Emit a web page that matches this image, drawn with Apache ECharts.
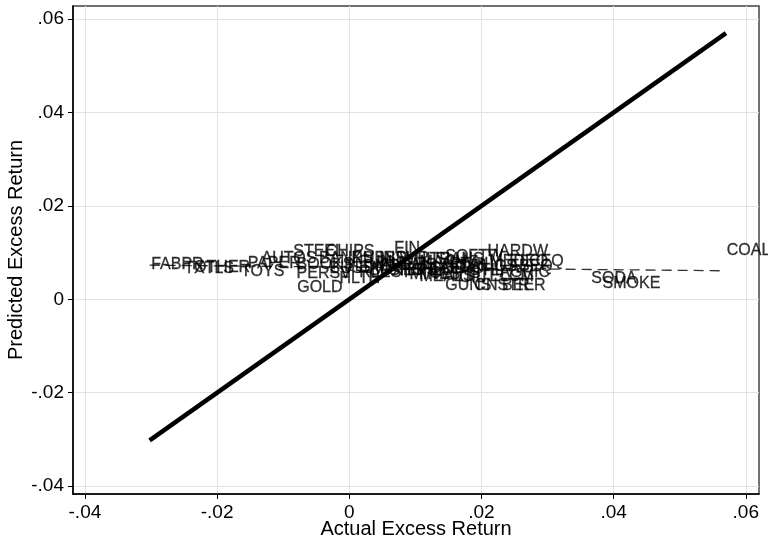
<!DOCTYPE html>
<html>
<head>
<meta charset="utf-8">
<script src="https://cdn.jsdelivr.net/npm/echarts@6/dist/echarts.min.js"></script>
<style>html,body{margin:0;padding:0;background:#fff;}#c{width:768px;height:540px;}</style>
</head>
<body>
<div id="c"></div>
<script>
// Industry labels and values (actual excess return, predicted excess return)
var industries = ['AGRIC','FOOD','SODA','BEER','SMOKE','TOYS','FUN','BOOKS','HSHLD','CLTHS','HLTH','MEDEQ','DRUGS','CHEMS','RUBBR','TXTLS','BLDMT','CNSTR','STEEL','FABPR','MACH','ELCEQ','AUTOS','AERO','SHIPS','GUNS','GOLD','MINES','COAL','OIL','UTIL','TELCM','PERSV','BUSSV','HARDW','SOFTW','CHIPS','LABEQ','PAPER','BOXES','TRANS','WHLSL','RTAIL','MEALS','BANKS','INSUR','RLEST','FIN','OTHER'];
var actual = [0.0225,0.0104,0.0364,0.0229,0.0381,-0.0166,0.0013,-0.0082,0.0074,0.0119,-0.0017,0.0210,0.0164,0.0043,0.0001,-0.0252,-0.0010,0.0187,-0.0087,-0.0302,0.0104,0.0240,-0.0135,0.0134,0.0058,0.0143,-0.0081,0.0089,0.0569,0.0164,0.0179,0.0195,-0.0082,-0.0032,0.0207,0.0143,-0.0038,0.0225,-0.0156,0.0028,0.0119,0.0074,0.0149,0.0104,-0.0048,0.0043,0.0013,0.0066,-0.0237];
var predicted = [0.0057,0.0066,0.0044,0.0029,0.0034,0.0059,0.0079,0.0074,0.0061,0.0055,0.0044,0.0081,0.0070,0.0072,0.0087,0.0066,0.0070,0.0029,0.0102,0.0074,0.0079,0.0081,0.0087,0.0066,0.0061,0.0029,0.0025,0.0053,0.0104,0.0046,0.0061,0.0049,0.0055,0.0066,0.0102,0.0091,0.0102,0.0070,0.0076,0.0061,0.0085,0.0085,0.0074,0.0049,0.0087,0.0087,0.0057,0.0109,0.0068];
// 45-degree reference line and fitted (dashed) line
var diagX = [-0.0302, 0.0570];
var diagY = [-0.0302, 0.0570];
var fitX = [-0.0302, 0.0569];
var fitY = [0.0073, 0.0061];
// Tick values
var xTicks = [-0.04, -0.02, 0, 0.02, 0.04, 0.06];
var yTicks = [-0.04, -0.02, 0, 0.02, 0.04, 0.06];

function fmt(v) {
  if (Math.abs(v) < 1e-9) return '0';
  var s = Math.abs(v).toFixed(2).replace(/^0/, '');
  return (v < 0 ? '-' : '') + s;
}
var FONT = '"Liberation Sans", Arial, Helvetica, sans-serif';
var scatterData = industries.map(function (n, i) { return [actual[i], predicted[i], n]; });

var chart = echarts.init(document.getElementById('c'), null, { renderer: 'canvas' });
var axisCommon = {
  type: 'value',
  axisLine: { show: true, onZero: false, lineStyle: { color: '#000', width: 1.5 } },
  axisTick: { show: true, length: 5, lineStyle: { color: '#000', width: 1 } },
  splitLine: { show: true, lineStyle: { color: '#e2e2e2', width: 1 } },
  nameLocation: 'middle',
  nameMoveOverlap: false,
  nameTextStyle: { fontSize: 20, color: '#000', fontFamily: FONT }
};
var option = {
  backgroundColor: '#fff',
  animation: false,
  grid: { left: 73, right: 9, top: 6, bottom: 46, containLabel: false, outerBoundsMode: 'none',
    show: true, borderColor: '#444', borderWidth: 1.5, backgroundColor: '#fff' },
  xAxis: Object.assign({}, axisCommon, {
    min: -0.0418, max: 0.062,
    name: 'Actual Excess Return', nameGap: 25,
    axisTick: Object.assign({}, axisCommon.axisTick, { customValues: xTicks }),
    axisLabel: { customValues: xTicks, formatter: fmt, fontSize: 19, color: '#000', margin: 9, fontFamily: FONT }
  }),
  yAxis: Object.assign({}, axisCommon, {
    min: -0.0417, max: 0.0628,
    name: 'Predicted Excess Return', nameGap: 47,
    axisTick: Object.assign({}, axisCommon.axisTick, { customValues: yTicks }),
    axisLabel: { customValues: yTicks, formatter: fmt, fontSize: 19, color: '#000', margin: 9, fontFamily: FONT }
  }),
  series: [
    {
      type: 'line', data: fitX.map(function (x, i) { return [x, fitY[i]]; }),
      symbol: 'none', lineStyle: { color: '#333', width: 1.3, type: [10, 6] }, z: 2
    },
    {
      type: 'scatter', data: scatterData, symbolSize: 1, z: 3,
      itemStyle: { color: 'rgba(0,0,0,0)' },
      label: { show: true, position: 'right', distance: 1, formatter: function (p) { return p.data[2]; },
        fontSize: 16, color: '#000', fontFamily: FONT, textBorderColor: '#000', textBorderWidth: 0.3 }
    },
    {
      type: 'line', data: diagX.map(function (x, i) { return [x, diagY[i]]; }),
      symbol: 'none', lineStyle: { color: '#000', width: 4.5, cap: 'butt' }, z: 4
    }
  ]
};
chart.setOption(option);
</script>
</body>
</html>
